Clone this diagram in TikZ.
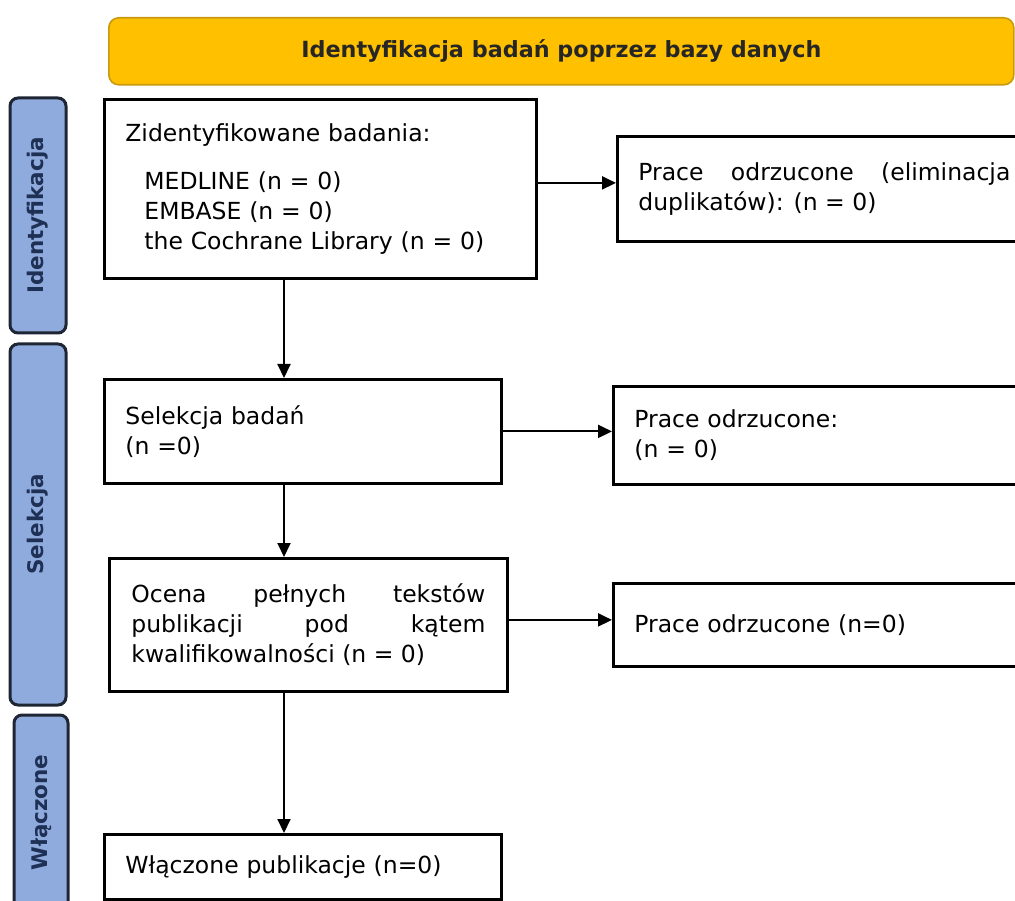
\documentclass[tikz,border=0pt]{standalone}
\usepackage{fontspec}
\setmainfont{DejaVu Sans}
\usetikzlibrary{arrows.meta,positioning,calc}
\hyphenpenalty=10000
\exhyphenpenalty=10000
\definecolor{bannerfill}{HTML}{FFC000}
\definecolor{bannerdraw}{HTML}{C99A10}
\definecolor{sidefill}{HTML}{8FAADC}
\definecolor{sidedraw}{HTML}{1E2533}
\definecolor{sidetext}{HTML}{1F3055}

\begin{document}
\begin{tikzpicture}
[x=1pt,y=-1pt,
banner/.style={draw=bannerdraw,fill=bannerfill,line width=1.6pt,rounded corners=10pt,
  anchor=north west,inner sep=0pt,font=\fontsize{22.3}{26}\selectfont\bfseries,text=black!85},
phase/.style={draw=sidedraw,fill=sidefill,line width=3pt,rounded corners=8pt,
  rotate=90,inner sep=0pt,font=\fontsize{21.5}{26}\selectfont\bfseries,text=sidetext},
stage/.style={draw,line width=2.8pt,anchor=north west,inner xsep=21pt,inner ysep=0pt,
  font=\fontsize{23.5}{30}\selectfont},
flow/.style={line width=2pt,-{Triangle[length=14pt,width=13pt]}}]
\path[use as bounding box] (0,0) rectangle (1015,901);
\clip (0,0) rectangle (1015,901);
%%
% header
%%
\node[banner,minimum width=905pt,minimum height=67pt] (head) at (108,17)
  {Identyfikacja badań poprzez bazy danych};
%%
% phases
%%
\node[phase,minimum width=235pt,minimum height=56pt] (identyf) at (38,215.5) {Identyfikacja};
\node[phase,minimum width=361pt,minimum height=56pt] (selekcja) at (38,524.5) {Selekcja};
\node[phase,minimum width=195pt,minimum height=54pt] (wlaczone) at (41,812.5) {Włączone};
%%
% main column
%%
\node[stage,minimum width=432pt,minimum height=179pt,text width=390pt,align=left]
  (zid) at (103,98)
  {Zidentyfikowane badania:\\[18pt]
   \hspace*{19pt}MEDLINE (n = 0)\\
   \hspace*{19pt}EMBASE (n = 0)\\
   \hspace*{19pt}the Cochrane Library (n = 0)};
\node[stage,minimum width=397pt,minimum height=104pt,text width=355pt,align=left]
  (sel) at (103,378) {Selekcja badań\\(n =0)};
\node[stage,minimum width=398pt,minimum height=133pt,text width=354pt,align=justify]
  (ocena) at (108,557) {Ocena pełnych tekstów publikacji pod kątem kwalifikowalności (n = 0)};
\node[stage,minimum width=397pt,minimum height=65pt,text width=355pt,align=left]
  (publ) at (103,833) {Włączone publikacje (n=0)};
%%
% excluded
%%
\node[stage,minimum width=414pt,minimum height=105pt,text width=372pt,align=justify]
  (odrz1) at (616,135) {Prace odrzucone (eliminacja duplikatów): (n = 0)};
\node[stage,minimum width=418pt,minimum height=98pt,text width=376pt,align=left]
  (odrz2) at (612,385) {Prace odrzucone:\\(n = 0)};
\node[stage,minimum width=418pt,minimum height=83pt,text width=376pt,align=left]
  (odrz3) at (612,582) {Prace odrzucone (n=0)};
%%
% connectors
%%
\coordinate (axis) at (284,0);
\draw[flow] (zid.south -| axis) -- (sel.north -| axis);
\draw[flow] (sel.south -| axis) -- (ocena.north -| axis);
\draw[flow] (ocena.south -| axis) -- (publ.north -| axis);
\draw[flow] ([yshift=6pt]zid.east) -- ([yshift=6pt]zid.east -| odrz1.west);
\draw[flow] (sel.east) -- (sel.east -| odrz2.west);
\draw[flow] ([yshift=5pt]ocena.east) -- ([yshift=5pt]ocena.east -| odrz3.west);
\end{tikzpicture}
\end{document}
